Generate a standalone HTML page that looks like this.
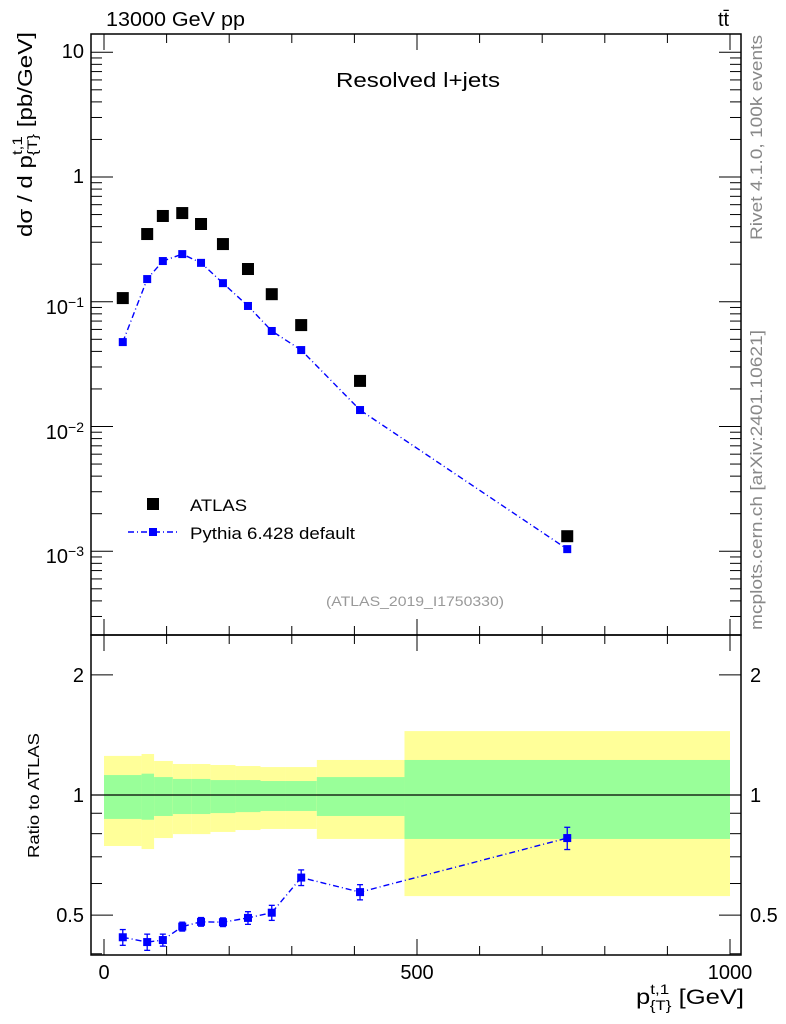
<!DOCTYPE html>
<html><head><meta charset="utf-8"><style>
body{margin:0;background:#fff}
svg{display:block;font-family:"Liberation Sans",sans-serif}
</style></head><body>
<svg id="c" width="786" height="1024" viewBox="0 0 786 1024" xmlns="http://www.w3.org/2000/svg">
<g id="g"></g>
<text x="106" y="26" font-size="20" textLength="139" lengthAdjust="spacingAndGlyphs">13000 GeV pp</text>
<text x="718" y="26" font-size="20">tt̄</text>
<text x="336" y="87" font-size="20" textLength="164" lengthAdjust="spacingAndGlyphs">Resolved l+jets</text>
<text x="326" y="606" font-size="14" fill="#999" textLength="178" lengthAdjust="spacingAndGlyphs">(ATLAS_2019_I1750330)</text>
<text transform="translate(762,240) rotate(-90)" font-size="17" fill="#888" textLength="205" lengthAdjust="spacingAndGlyphs">Rivet 4.1.0,  100k events</text>
<text transform="translate(762,630) rotate(-90)" font-size="17" fill="#888" textLength="300" lengthAdjust="spacingAndGlyphs">mcplots.cern.ch [arXiv:2401.10621]</text>
<text transform="translate(32,237) rotate(-90)" font-size="20" textLength="205" lengthAdjust="spacingAndGlyphs">dσ / d p<tspan font-size="14" dy="-10">t,1</tspan><tspan font-size="14" dx="-16" dy="15">{T}</tspan><tspan dy="-5"> [pb/GeV]</tspan></text>
<text transform="translate(39,858) rotate(-90)" font-size="16" textLength="125" lengthAdjust="spacingAndGlyphs">Ratio to ATLAS</text>
<text x="636" y="1004" font-size="21" textLength="108" lengthAdjust="spacingAndGlyphs">p<tspan font-size="14" dy="-10">t,1</tspan><tspan font-size="14" dx="-16" dy="16">{T}</tspan><tspan dy="-6"> [GeV]</tspan></text>
<rect x="147" y="498" width="12" height="12" fill="#000"/>
<text x="190" y="511" font-size="17" textLength="57" lengthAdjust="spacingAndGlyphs">ATLAS</text>
<line x1="128" y1="532" x2="178" y2="532" stroke="#00f" stroke-width="1.4" stroke-dasharray="6,3,1,3"/>
<rect x="149" y="528" width="8" height="8" fill="#00f"/>
<text x="190" y="539" font-size="17" textLength="165" lengthAdjust="spacingAndGlyphs">Pythia 6.428 default</text>
</svg>
<script>
const binEdges=[0,60,80,110,140,170,210,250,290,340,480,1000];
const xCenters=[30,69,94,125,155,190,230,268,315,409,740];
const atlas=[0.107,0.349,0.487,0.514,0.42,0.29,0.183,0.115,0.065,0.0232,0.00132];
const pythia=[0.0475,0.152,0.212,0.241,0.205,0.141,0.0925,0.0583,0.041,0.01355,0.00104];
const ratio=[0.44,0.428,0.433,0.468,0.481,0.48,0.492,0.507,0.621,0.571,0.78];
const ratioErr=[0.02,0.02,0.015,0.012,0.012,0.012,0.018,0.022,0.028,0.025,0.05];
const bandYelHi=[1.253,1.267,1.217,1.196,1.196,1.189,1.182,1.175,1.175,1.224,1.446];
const bandGrnHi=[1.122,1.131,1.109,1.097,1.097,1.09,1.09,1.084,1.084,1.109,1.224];
const bandGrnLo=[0.871,0.867,0.886,0.896,0.896,0.901,0.906,0.912,0.912,0.886,0.776];
const bandYelLo=[0.745,0.732,0.78,0.798,0.798,0.808,0.817,0.822,0.822,0.776,0.558];
const yTicks=[10,1,0.1,0.01,0.001];
const yTickLabels=["10","1","10<sup>−1</sup>","10<sup>−2</sup>","10<sup>−3</sup>"];
const rTicks=[0.5,1,2];
const xTicks=[0,500,1000];

const L=91,R=741,T=34,MB=635,RB=955;
const X=v=>104+v*0.626;
const Y=v=>177-Math.log10(v)*124.75;
const RY=v=>795-Math.log10(v)*399;
const g=document.getElementById('g');
const NS='http://www.w3.org/2000/svg';
function el(t,a){const e=document.createElementNS(NS,t);for(const k in a)e.setAttribute(k,a[k]);g.appendChild(e);return e;}
for(let i=0;i<binEdges.length-1;i++){
  const x0=X(binEdges[i]),x1=X(binEdges[i+1]);
  let e=el('rect',{x:x0,y:RY(bandYelHi[i]),width:x1-x0,height:RY(bandYelLo[i])-RY(bandYelHi[i]),fill:'#ffff99'});
  
  
  e=el('rect',{x:x0,y:RY(bandGrnHi[i]),width:x1-x0,height:RY(bandGrnLo[i])-RY(bandGrnHi[i]),fill:'#99ff99'});
  
  
}
let ln=el('line',{x1:L,x2:R,y1:RY(1),y2:RY(1),stroke:'#000','stroke-width':1.2});


for(const [y0,y1,n] of [[T,MB,'main-frame'],[MB,RB,'ratio-frame']]){
  const f=el('rect',{x:L,y:y0,width:R-L,height:y1-y0,fill:'none',stroke:'#000','stroke-width':1.5});
  
  
}
for(let v=0;v<=1000;v+=100){
  const maj=v%500==0,x=X(v),len=maj?16:9;
  for(const [y,d] of [[T,1],[MB,-1],[MB,1],[RB,-1]]){
    el('line',{x1:x,x2:x,y1:y,y2:y+d*len,stroke:'#000','stroke-width':1});
  }
}
xTicks.forEach(v=>{const t=el('text',{x:X(v),y:979,'font-size':20,'text-anchor':'middle'});t.textContent=v;
  
  });
for(let d=-4;d<=1;d++)for(let m=1;m<10;m++){
  const v=m*Math.pow(10,d),y=Y(v);if(y<T||y>MB)continue;
  const len=m==1?22:11;
  el('line',{x1:L,x2:L+len,y1:y,y2:y,stroke:'#000'});
  el('line',{x1:R,x2:R-len,y1:y,y2:y,stroke:'#000'});
}
yTicks.forEach((v,i)=>{const f=document.createElementNS('http://www.w3.org/1999/xhtml','div');
  const fo=el('foreignObject',{x:14,y:Y(v)-14,width:70,height:30});
  
  
  f.setAttribute('style','text-align:right;font:20px "Liberation Sans",sans-serif;line-height:28px');
  f.innerHTML=yTickLabels[i].replace(/<sup>/,'<sup style="font-size:14px;vertical-align:7px">');fo.appendChild(f);});
[0.4,0.5,0.6,0.7,0.8,0.9,1,2].forEach(v=>{const y=RY(v);const maj=rTicks.includes(v);const len=maj?22:11;
  el('line',{x1:L,x2:L+len,y1:y,y2:y,stroke:'#000'});el('line',{x1:R,x2:R-len,y1:y,y2:y,stroke:'#000'});});
rTicks.forEach(v=>{for(const [x,a] of [[84,'end'],[750,'start']]){const t=el('text',{x:x,y:RY(v)+7,'font-size':20,'text-anchor':a});t.textContent=v;
  
  }});
let p=el('polyline',{points:xCenters.map((x,i)=>X(x)+','+Y(pythia[i])).join(' '),fill:'none',stroke:'#00f','stroke-width':1.4,'stroke-dasharray':'6,3,1,3'});


xCenters.forEach((x,i)=>{
  let r=el('rect',{x:X(x)-6,y:Y(atlas[i])-6,width:12,height:12,fill:'#000'});
  
  
  r=el('rect',{x:X(x)-4,y:Y(pythia[i])-4,width:8,height:8,fill:'#00f'});
  
  
});
p=el('polyline',{points:xCenters.map((x,i)=>X(x)+','+RY(ratio[i])).join(' '),fill:'none',stroke:'#00f','stroke-width':1.4,'stroke-dasharray':'6,3,1,3'});


xCenters.forEach((x,i)=>{
  const cx=X(x),y1=RY(ratio[i]+ratioErr[i]),y2=RY(ratio[i]-ratioErr[i]);
  el('line',{x1:cx,x2:cx,y1:y1,y2:y2,stroke:'#00f','stroke-width':1.3});
  el('line',{x1:cx-3,x2:cx+3,y1:y1,y2:y1,stroke:'#00f','stroke-width':1.3});
  el('line',{x1:cx-3,x2:cx+3,y1:y2,y2:y2,stroke:'#00f','stroke-width':1.3});
  const r=el('rect',{x:cx-4,y:RY(ratio[i])-4,width:8,height:8,fill:'#00f'});
  
  
});
</script>
</body></html>
